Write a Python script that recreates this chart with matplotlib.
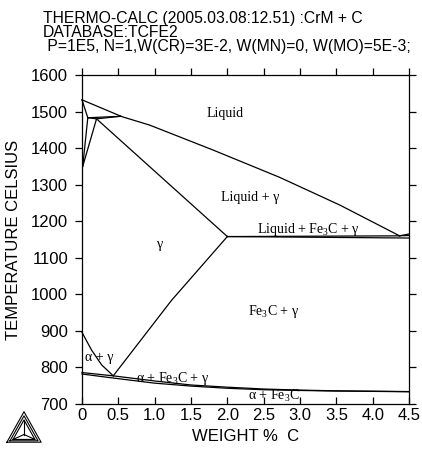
"""Fe-C isopleth with 3 % Cr, 0.5 % Mo (Thermo-Calc style)."""

import matplotlib

matplotlib.use("Agg")
import matplotlib.pyplot as plt
from matplotlib.ticker import FuncFormatter, MultipleLocator

plt.rcParams["font.family"] = ["Liberation Sans", "DejaVu Sans"]
plt.rcParams["mathtext.fontset"] = "custom"
plt.rcParams["mathtext.rm"] = "Liberation Serif"
plt.rcParams["mathtext.it"] = "Liberation Serif:italic"

# phase boundaries, (wt% C, deg C)
liquidus_c = [0.0, 0.55, 0.93, 1.8, 2.72, 3.55, 4.37]
liquidus_t = [1532, 1486, 1463, 1395, 1320, 1244, 1160]

delta_solidus_c = [0.0, 0.08]
delta_solidus_t = [1532, 1483]

peri_a_c = [0.08, 0.53]
peri_a_t = [1483, 1487]
peri_b_c = [0.2, 0.53]
peri_b_t = [1480, 1487]
peri_c_c = [0.08, 0.2]
peri_c_t = [1483, 1480]

delta_solvus_c = [0.01, 0.08]
delta_solvus_t = [1350, 1483]
gamma_delta_c = [0.01, 0.2]
gamma_delta_t = [1350, 1480]

gamma_solidus_c = [0.2, 2.0]
gamma_solidus_t = [1480, 1158]

eut_upper_c = [2.0, 4.37, 4.5]
eut_upper_t = [1158, 1160, 1161]
eut_lower_c = [2.0, 4.5]
eut_lower_t = [1158, 1154]
graphite_c = [4.37, 4.5]
graphite_t = [1160, 1165]

acm_c = [0.43, 1.23, 2.0]
acm_t = [777, 983, 1158]

a3_c = [0.0, 0.13, 0.27, 0.43]
a3_t = [896, 848, 807, 777]

eutd_upper_c = [0.0, 0.43, 1.0, 1.5, 2.0, 2.5, 3.0, 3.5, 4.0, 4.5]
eutd_upper_t = [786, 777, 763, 752, 746, 741, 738, 736, 735, 734]
eutd_lower_c = [0.0, 0.43, 1.0, 1.5, 2.0, 2.5, 3.0, 3.5, 4.0, 4.5]
eutd_lower_t = [782, 771, 757, 749, 743, 739, 737, 735.5, 734.5, 733.5]

region_labels = ["Liquid", "Liquid + \u03b3", "Liquid + Fe$_3$C + \u03b3", "\u03b3",
                 "Fe$_3$C + \u03b3", "\u03b1 + \u03b3", "\u03b1 + Fe$_3$C + \u03b3",
                 "\u03b1 + Fe$_3$C"]
label_c = [1.97, 2.31, 3.12, 1.07, 2.63, 0.24, 1.24, 2.64]
label_t = [1496, 1266, 1176, 1135, 952, 826, 771, 722]

header = [
  "THERMO-CALC (2005.03.08:12.51) :CrM + C",
  "DATABASE:TCFE2",
  " P=1E5, N=1,W(CR)=3E-2, W(MN)=0, W(MO)=5E-3;",
]

fig = plt.figure(figsize=(4.22, 4.55), dpi=100)
fig.patch.set_facecolor("white")
ax = fig.add_axes([0.1943, 0.1121, 0.7749, 0.7231])

lw = 0.9
curves = [
  (liquidus_c, liquidus_t), (delta_solidus_c, delta_solidus_t),
  (peri_a_c, peri_a_t), (peri_b_c, peri_b_t), (peri_c_c, peri_c_t),
  (delta_solvus_c, delta_solvus_t), (gamma_delta_c, gamma_delta_t),
  (gamma_solidus_c, gamma_solidus_t), (eut_upper_c, eut_upper_t),
  (eut_lower_c, eut_lower_t), (graphite_c, graphite_t),
  (acm_c, acm_t), (a3_c, a3_t),
  (eutd_upper_c, eutd_upper_t), (eutd_lower_c, eutd_lower_t),
]
for cs, ts in curves:
  ax.plot(cs, ts, color="black", linewidth=lw, clip_on=False)

for text, c, t in zip(region_labels, label_c, label_t):
  ax.text(c, t, text, ha="center", va="center", fontsize=10,
          family="Liberation Serif", color="black")

ax.set_xlim(0, 4.5)
ax.set_ylim(700, 1600)
ax.xaxis.set_major_locator(MultipleLocator(0.5))
ax.yaxis.set_major_locator(MultipleLocator(100))
ax.xaxis.set_major_formatter(FuncFormatter(lambda v, _: "0" if abs(v) < 1e-9 else f"{v:.1f}"))
ax.tick_params(axis="y", direction="out", length=5, width=0.9, labelsize=12,
               right=True, pad=5)
ax.tick_params(axis="x", which="both", top=True, width=0.9, labelsize=12)
ax.tick_params(axis="x", bottom=True, direction="in", length=5, pad=3)
ax.xaxis.set_tick_params(which="major", labeltop=False)
for tick in ax.xaxis.get_major_ticks():
  tick.tick2line.set_marker(2)  # top ticks point outward (up)
  tick.tick2line.set_markersize(5)
for spine in ax.spines.values():
  spine.set_linewidth(0.9)

ax.set_xlabel("WEIGHT %  C", fontsize=12, labelpad=4)
ax.set_ylabel("TEMPERATURE CELSIUS", fontsize=12, labelpad=7)

for i, line in enumerate(header):
  fig.text(43 / 422, 1 - (19 + 13.5 * i) / 455, line, fontsize=11.3,
           va="center", ha="left", color="black")

# Thermo-Calc logo
logo = fig.add_axes([5 / 422, 1 - 445 / 455, 38 / 422, 35 / 455])
logo.set_xlim(0, 1)
logo.set_ylim(0, 1)
logo.axis("off")
cx, cy = 0.5, 0.3
for s in (1.0, 0.82, 0.64):
  xs = [cx + s * (v - cx) for v in (0.05, 0.95, 0.5, 0.05)]
  ys = [cy + s * (v - cy) for v in (0.08, 0.08, 0.95, 0.08)]
  logo.plot(xs, ys, color="black", linewidth=0.8)
for vx, vy in ((0.05, 0.08), (0.95, 0.08), (0.5, 0.95)):
  logo.plot([cx, cx + 0.64 * (vx - cx)], [cy, cy + 0.64 * (vy - cy)],
            color="black", linewidth=0.8)

fig.savefig("out.png", dpi=100)
